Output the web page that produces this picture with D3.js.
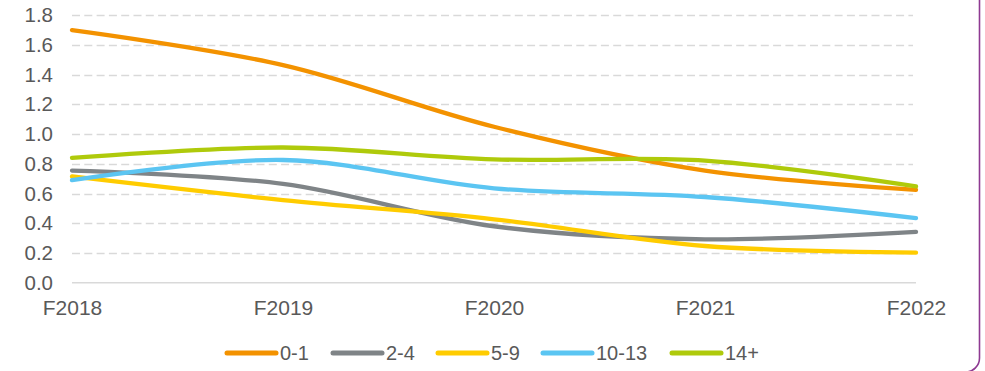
<!DOCTYPE html>
<html>
<head>
<meta charset="utf-8">
<script src="https://cdn.jsdelivr.net/npm/d3@7"></script>
<style>
  html, body { margin: 0; padding: 0; background: #fff; }
  svg { display: block; font-family: "Liberation Sans", Arial, sans-serif; }
</style>
</head>
<body>
<svg id="chart" width="985" height="371"></svg>
<script>
// Fiscal years on the x axis
const years = ["F2018", "F2019", "F2020", "F2021", "F2022"];
// Y axis tick values
const yTicks = [0, 0.2, 0.4, 0.6, 0.8, 1.0, 1.2, 1.4, 1.6, 1.8];

// Age-group series
const seriesNames = ["0-1", "2-4", "5-9", "10-13", "14+"];
const values01   = [1.70, 1.465, 1.05, 0.755, 0.625];
const values24   = [0.755, 0.665, 0.38, 0.292, 0.342];
const values59   = [0.715, 0.556, 0.427, 0.247, 0.202];
const values1013 = [0.69, 0.826, 0.635, 0.577, 0.435];
const values14   = [0.84, 0.91, 0.83, 0.822, 0.648];
const seriesColors = ["#F39200", "#7F8487", "#FFCC00", "#5BC5F2", "#AFCA0B"];

const seriesValues = [values01, values24, values59, values1013, values14];

const svg = d3.select("#chart");

const x = d3.scalePoint().domain(years).range([72, 916]);
const y = d3.scaleLinear().domain([0, 1.8]).range([282.7, 15.3]);

// Dashed horizontal gridlines
svg.append("g")
  .selectAll("line")
  .data(yTicks.filter(d => d > 0))
  .join("line")
  .attr("x1", 72)
  .attr("x2", 913)
  .attr("y1", d => Math.round(y(d)) + 0.5)
  .attr("y2", d => Math.round(y(d)) + 0.5)
  .attr("stroke", "#D9D9D9")
  .attr("stroke-width", 1.6)
  .attr("stroke-dasharray", "8,4.3");

// Baseline
svg.append("line")
  .attr("x1", 72).attr("x2", 916)
  .attr("y1", y(0)).attr("y2", y(0))
  .attr("stroke", "#D9D9D9")
  .attr("stroke-width", 1.6);

// Y axis labels
const yAxis = d3.axisLeft(y).tickValues(yTicks).tickFormat(d3.format(".1f")).tickSize(0).tickPadding(0);
const gy = svg.append("g").attr("transform", "translate(53,0)").call(yAxis);
gy.select(".domain").remove();
gy.selectAll("text")
  .attr("fill", "#595959")
  .attr("font-size", "20.5px")
  .attr("font-family", "Liberation Sans, Arial, sans-serif");

// X axis labels
const xAxis = d3.axisBottom(x).tickSize(0).tickPadding(0);
const gx = svg.append("g").attr("transform", "translate(0,300.5)").call(xAxis);
gx.select(".domain").remove();
gx.selectAll("text")
  .attr("fill", "#595959")
  .attr("font-size", "21px")
  .attr("dy", "0.71em")
  .attr("font-family", "Liberation Sans, Arial, sans-serif");

// Smoothed series lines
const line = d3.line()
  .x((d, i) => x(years[i]))
  .y(d => y(d))
  .curve(d3.curveCatmullRom.alpha(0.5));

svg.append("g")
  .selectAll("path")
  .data(seriesValues)
  .join("path")
  .attr("d", d => line(d))
  .attr("fill", "none")
  .attr("stroke", (d, i) => seriesColors[i])
  .attr("stroke-width", 4.3)
  .attr("stroke-linecap", "round")
  .attr("stroke-linejoin", "round");

// Legend
const legendX = [227, 333, 438, 543, 672];
const legend = svg.append("g")
  .selectAll("g")
  .data(seriesNames)
  .join("g")
  .attr("transform", (d, i) => `translate(${legendX[i]},353)`);

legend.append("line")
  .attr("x1", 0).attr("x2", 49)
  .attr("y1", 0).attr("y2", 0)
  .attr("stroke", (d, i) => seriesColors[i])
  .attr("stroke-width", 5)
  .attr("stroke-linecap", "round");

legend.append("text")
  .attr("x", 53)
  .attr("y", 0)
  .attr("dy", "0.36em")
  .attr("fill", "#595959")
  .attr("font-size", "20px")
  .text(d => d);

// Frame edge
svg.append("rect")
  .attr("x", -20).attr("y", -30)
  .attr("width", 999.5).attr("height", 402)
  .attr("rx", 14).attr("ry", 14)
  .attr("fill", "none")
  .attr("stroke", "#8E3A92")
  .attr("stroke-width", 1.6);
</script>
</body>
</html>
